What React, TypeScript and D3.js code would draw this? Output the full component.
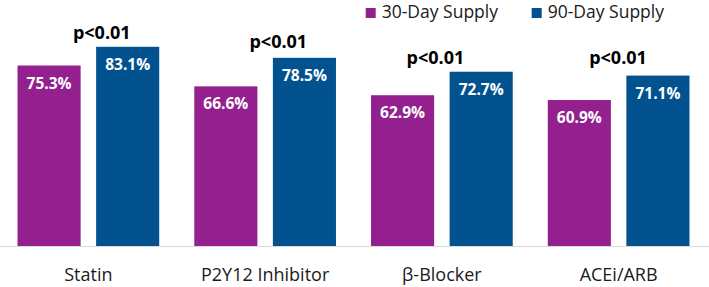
import React from "react";
import * as d3 from "d3";

const categories = ["Statin", "P2Y12 Inhibitor", "β-Blocker", "ACEi/ARB"];
const seriesNames = ["30-Day Supply", "90-Day Supply"];
const supply30 = [75.3, 66.6, 62.9, 60.9];
const supply90 = [83.1, 78.5, 72.7, 71.1];
const pValues = ["p<0.01", "p<0.01", "p<0.01", "p<0.01"];

// layout-only nudges for the p-value annotations (pixels)
const pDx = [13.4, 13.2, -6.4, -0.6];
const pDy = [-7.4, -9.6, -7.7, -11.7];

const W = 709;
const H = 287;
const COLORS = ["#941f8f", "#01528f"];
const FONT = "'Open Sans', Lato, sans-serif";

export default function App() {
  const x = d3.scaleBand<string>().domain(categories).range([0, 707]).padding(0);
  const xs = d3
    .scaleBand<string>()
    .domain(seriesNames)
    .range([0, x.bandwidth()])
    .paddingInner(0.197)
    .paddingOuter(0.223);
  const y = d3.scaleLinear().domain([0, 100]).range([246, 6.3]);
  const values = [supply30, supply90];

  return (
    <svg
      width={W}
      height={H}
      style={{ position: "absolute", left: 0, top: 0, background: "#fff" }}
      fontFamily={FONT}
    >
      <rect width={W} height={H} fill="#fff" />
      <line x1={0} x2={W} y1={246.5} y2={246.5} stroke="#d9d9d9" strokeWidth={1} />
      {categories.map((c, i) => (
        <g key={c} transform={`translate(${x(c)},0)`}>
          {seriesNames.map((s, j) => {
            const v = values[j][i];
            const bx = xs(s)!;
            return (
              <g key={s}>
                <rect
                  x={bx}
                  y={y(v)}
                  width={xs.bandwidth()}
                  height={y(0) - y(v)}
                  fill={COLORS[j]}
                />
                <text
                  x={bx + xs.bandwidth() / 2}
                  y={y(v) + 23}
                  textAnchor="middle"
                  fill="#fff"
                  fontWeight="bold"
                  fontSize={15.5}
                >
                  {v.toFixed(1)}%
                </text>
              </g>
            );
          })}
          <text
            x={x.bandwidth() / 2 + pDx[i]}
            y={y(supply90[i]) + pDy[i]}
            textAnchor="middle"
            fontWeight="bold"
            fontSize={18}
            fill="#000"
          >
            {pValues[i]}
          </text>
          <text
            x={x.bandwidth() / 2}
            y={281}
            textAnchor="middle"
            fontSize={18}
            fill="#1a1a1a"
          >
            {c}
          </text>
        </g>
      ))}
      {seriesNames.map((s, j) => {
        const lx = [365.7, 531.7][j];
        return (
          <g key={s} transform={`translate(${lx},0)`}>
            <rect x={0} y={8} width={10} height={10} fill={COLORS[j]} />
            <text x={16} y={18.3} fontSize={17.5} fill="#1a1a1a">
              {s}
            </text>
          </g>
        );
      })}
    </svg>
  );
}
